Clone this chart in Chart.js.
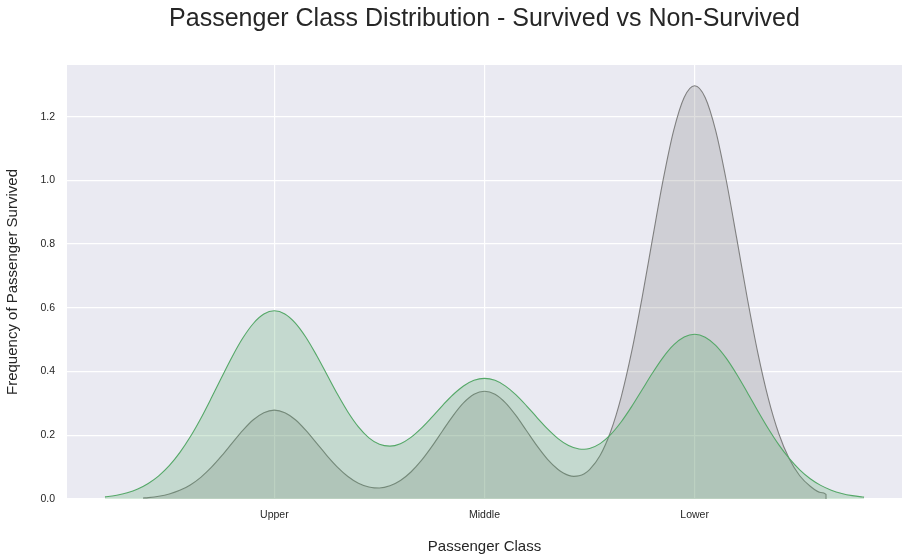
<!DOCTYPE html>
<html><head><meta charset="utf-8">
<script src="https://cdn.jsdelivr.net/npm/chart.js@4.4.0/dist/chart.umd.min.js"></script>
<style>html,body{margin:0;padding:0;background:#fff;}canvas{display:block;}</style>
</head><body>
<canvas id="c" width="910" height="560" style="width:910px;height:560px"></canvas>
<script>
const chartTitle = 'Passenger Class Distribution - Survived vs Non-Survived';
const xAxisTitle = 'Passenger Class';
const yAxisTitle = 'Frequency of Passenger Survived';
const classLabels = ['Upper', 'Middle', 'Lower'];
const classPositions = [1, 2, 3];
const yTickValues = [0, 0.2, 0.4, 0.6, 0.8, 1.0, 1.2];

// Survived (green) density curve
const survivedX = [0.194,0.20,0.25,0.30,0.35,0.40,0.45,0.50,0.55,0.60,0.65,0.70,0.75,0.80,0.85,0.90,0.95,1.00,1.05,1.10,1.15,1.20,1.25,1.30,1.35,1.40,1.45,1.50,1.55,1.60,1.65,1.70,1.75,1.80,1.85,1.90,1.95,2.00,2.05,2.10,2.15,2.20,2.25,2.30,2.35,2.40,2.45,2.475,2.50,2.55,2.60,2.65,2.70,2.75,2.80,2.85,2.90,2.95,3.00,3.05,3.10,3.15,3.20,3.25,3.30,3.35,3.40,3.45,3.50,3.55,3.60,3.65,3.70,3.75,3.80,3.806];
const survivedY = [0.0066,0.0070,0.0120,0.0199,0.0317,0.0489,0.0728,0.1046,0.1454,0.1951,0.2528,0.3166,0.3830,0.4475,0.5051,0.5508,0.5803,0.5906,0.5808,0.5521,0.5077,0.4520,0.3907,0.3293,0.2731,0.2264,0.1920,0.1716,0.1658,0.1737,0.1935,0.2225,0.2570,0.2933,0.3272,0.3546,0.3725,0.3787,0.3724,0.3543,0.3268,0.2925,0.2555,0.2200,0.1896,0.1676,0.1567,0.1560,0.1585,0.1738,0.2020,0.2416,0.2898,0.3429,0.3961,0.4446,0.4834,0.5083,0.5169,0.5078,0.4821,0.4420,0.3916,0.3352,0.2771,0.2213,0.1707,0.1272,0.0916,0.0637,0.0428,0.0278,0.0174,0.0105,0.0062,0.0058];

// Non-survived (grey) density curve
const notSurvivedX = [0.375,0.40,0.45,0.50,0.55,0.60,0.65,0.70,0.75,0.80,0.85,0.90,0.95,1.00,1.05,1.10,1.15,1.20,1.25,1.30,1.35,1.40,1.45,1.475,1.50,1.55,1.60,1.65,1.70,1.75,1.80,1.85,1.90,1.95,2.00,2.05,2.10,2.15,2.20,2.25,2.30,2.35,2.375,2.40,2.425,2.45,2.475,2.50,2.55,2.60,2.65,2.70,2.75,2.80,2.85,2.90,2.95,3.00,3.05,3.10,3.15,3.20,3.25,3.30,3.35,3.40,3.45,3.50,3.55,3.60,3.625,3.6251];
const notSurvivedY = [0.0031,0.0044,0.0086,0.0157,0.0271,0.0442,0.0681,0.0990,0.1358,0.1760,0.2153,0.2486,0.2710,0.2790,0.2710,0.2486,0.2154,0.1762,0.1364,0.1002,0.0707,0.0496,0.0375,0.0349,0.0347,0.0414,0.0580,0.0847,0.1210,0.1651,0.2136,0.2611,0.3015,0.3286,0.3382,0.3287,0.3016,0.2614,0.2142,0.1667,0.1246,0.0925,0.0815,0.0741,0.0711,0.0727,0.0795,0.0920,0.1364,0.2109,0.3191,0.4614,0.6321,0.8186,1.0012,1.1561,1.2603,1.2971,1.2603,1.1561,1.0011,0.8184,0.6316,0.4602,0.3165,0.2055,0.1260,0.0729,0.0399,0.0206,0.0145,0];

const toPoints = (xs, ys) => xs.map((x, i) => ({ x: x, y: ys[i] }));
const FONT = "'Liberation Sans', Arial, sans-serif";
const TXT = '#262626';

const bgPlugin = {
  id: 'bg',
  beforeDraw(chart) {
    const { ctx, chartArea: a } = chart;
    ctx.save();
    ctx.fillStyle = '#ffffff';
    ctx.fillRect(0, 0, chart.width, chart.height);
    ctx.fillStyle = '#eaeaf2';
    ctx.fillRect(a.left, a.top, a.right - a.left, a.bottom - a.top);
    ctx.restore();
  }
};
const titlePlugin = {
  id: 'axTitle',
  afterDraw(chart) {
    const { ctx, chartArea: a } = chart;
    ctx.save();
    ctx.font = '25px ' + FONT;
    ctx.fillStyle = TXT;
    ctx.textAlign = 'center';
    ctx.textBaseline = 'alphabetic';
    ctx.fillText(chartTitle, (a.left + a.right) / 2, 26);
    ctx.restore();
  }
};

new Chart(document.getElementById('c'), {
  type: 'line',
  data: {
    datasets: [
      {
        label: 'survived',
        data: toPoints(survivedX, survivedY),
        borderColor: '#55a868',
        backgroundColor: 'rgba(85,168,104,0.25)',
        borderWidth: 1.1,
        fill: 'origin',
        pointRadius: 0,
        cubicInterpolationMode: 'monotone'
      },
      {
        label: 'not survived',
        data: toPoints(notSurvivedX, notSurvivedY),
        borderColor: '#808080',
        backgroundColor: 'rgba(128,128,128,0.25)',
        borderWidth: 1.1,
        fill: 'origin',
        pointRadius: 0,
        cubicInterpolationMode: 'monotone'
      }
    ]
  },
  options: {
    responsive: false,
    animation: false,
    devicePixelRatio: 1,
    layout: { padding: { left: 0, right: 8, top: 65, bottom: 0 } },
    plugins: { legend: { display: false }, tooltip: { enabled: false }, title: { display: false } },
    scales: {
      x: {
        type: 'linear',
        min: 0.0134,
        max: 3.9866,
        afterBuildTicks: s => { s.ticks = classPositions.map(v => ({ value: v })); },
        afterFit: s => { s.height = 61; },
        ticks: {
          autoSkip: false, maxRotation: 0, padding: 10,
          font: { family: FONT, size: 10.5 }, color: TXT,
          callback: v => classLabels[classPositions.indexOf(v)]
        },
        grid: { color: '#ffffff', lineWidth: 1.2, drawTicks: false },
        border: { display: false },
        title: { display: true, text: xAxisTitle, font: { family: FONT, size: 15 }, color: TXT, padding: { top: 0, bottom: 4 } }
      },
      y: {
        type: 'linear',
        min: 0,
        max: 1.362,
        afterBuildTicks: s => { s.ticks = yTickValues.map(v => ({ value: v })); },
        afterFit: s => { s.width = 67; },
        ticks: {
          padding: 12,
          font: { family: FONT, size: 10.5 }, color: TXT,
          callback: v => Number(v).toFixed(1)
        },
        grid: { color: '#ffffff', lineWidth: 1.2, drawTicks: false },
        border: { display: false },
        title: { display: true, text: yAxisTitle, font: { family: FONT, size: 15 }, color: TXT, padding: { top: 4, bottom: 0 } }
      }
    }
  },
  plugins: [bgPlugin, titlePlugin]
});
</script>
</body></html>
